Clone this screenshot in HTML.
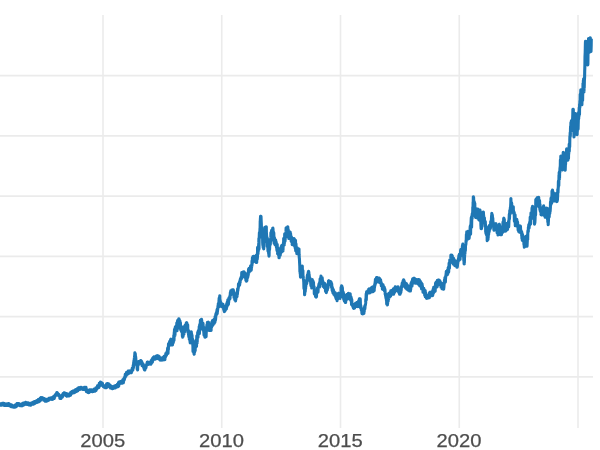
<!DOCTYPE html>
<html><head><meta charset="utf-8"><title>chart</title>
<style>
html,body{margin:0;padding:0;background:#fff;}
body{width:600px;height:450px;overflow:hidden;font-family:"Liberation Sans",sans-serif;}
svg{display:block}
.grid line{stroke:#ebebeb;stroke-width:1.6}
.lbl text{font-family:"Liberation Sans",sans-serif;font-size:18.3px;fill:#4d4d4d;stroke:#4d4d4d;stroke-width:0.25px}
</style></head><body>
<svg width="600" height="450" viewBox="0 0 600 450">
<rect width="600" height="450" fill="#ffffff"/>
<g class="grid"><line x1="-2" x2="593" y1="75.6" y2="75.6"/><line x1="-2" x2="593" y1="135.85" y2="135.85"/><line x1="-2" x2="593" y1="196.1" y2="196.1"/><line x1="-2" x2="593" y1="256.35" y2="256.35"/><line x1="-2" x2="593" y1="316.6" y2="316.6"/><line x1="-2" x2="593" y1="376.85" y2="376.85"/><line x1="103" x2="103" y1="15" y2="428"/><line x1="221.75" x2="221.75" y1="15" y2="428"/><line x1="340.5" x2="340.5" y1="15" y2="428"/><line x1="459.25" x2="459.25" y1="15" y2="428"/><line x1="578" x2="578" y1="15" y2="428"/></g>
<polyline fill="none" stroke="#1f77b4" stroke-width="3.1" stroke-linejoin="round" stroke-linecap="butt" points="-2.0,404.3 -1.9,404.8 -1.8,404.4 -1.6,404.3 -1.5,403.9 -1.4,404.3 -1.3,405.2 -1.2,405.0 -1.0,405.3 -0.9,404.9 -0.8,404.9 -0.7,404.8 -0.6,404.0 -0.4,405.1 -0.3,405.1 -0.2,405.1 -0.1,403.9 0.0,403.9 0.2,403.9 0.3,404.2 0.4,404.7 0.5,404.6 0.6,404.9 0.8,404.1 0.9,404.6 1.0,404.7 1.1,404.0 1.2,405.2 1.4,404.9 1.5,405.1 1.6,404.0 1.7,403.7 1.8,403.9 2.0,404.1 2.1,404.6 2.2,404.4 2.3,403.8 2.4,403.4 2.6,403.6 2.7,404.8 2.8,403.6 2.9,404.2 3.0,404.4 3.2,403.4 3.3,404.1 3.4,405.1 3.5,403.4 3.6,403.9 3.8,404.2 3.9,403.8 4.0,404.7 4.1,404.4 4.2,403.6 4.4,404.9 4.5,405.1 4.6,405.3 4.7,405.5 4.8,405.1 5.0,404.8 5.1,403.9 5.2,405.1 5.3,404.4 5.4,404.5 5.6,404.0 5.7,404.1 5.8,404.5 5.9,405.5 6.0,404.1 6.2,404.1 6.3,404.9 6.4,405.5 6.5,405.4 6.6,403.9 6.8,403.8 6.9,404.7 7.0,404.1 7.1,403.8 7.2,405.1 7.4,405.4 7.5,404.7 7.6,404.6 7.7,404.7 7.8,405.3 8.0,404.9 8.1,404.8 8.2,404.8 8.3,403.8 8.4,405.2 8.6,405.3 8.7,405.1 8.8,403.8 8.9,404.1 9.0,405.2 9.2,403.8 9.3,404.5 9.4,405.6 9.5,404.1 9.6,406.0 9.8,405.6 9.9,405.1 10.0,405.4 10.1,405.7 10.2,405.4 10.4,406.1 10.5,405.0 10.6,405.1 10.7,406.1 10.8,405.6 11.0,405.0 11.1,406.2 11.2,406.6 11.3,405.6 11.4,404.8 11.6,405.6 11.7,405.7 11.8,405.7 11.9,406.8 12.0,405.5 12.2,406.8 12.3,405.3 12.4,405.5 12.5,406.5 12.6,407.0 12.8,406.9 12.9,406.6 13.0,406.4 13.1,406.4 13.2,406.7 13.4,406.3 13.5,406.6 13.6,406.8 13.7,406.5 13.8,407.0 14.0,407.0 14.1,407.2 14.2,407.0 14.3,406.4 14.4,406.3 14.6,406.6 14.7,407.2 14.8,406.5 14.9,406.8 15.0,407.2 15.2,405.0 15.3,405.2 15.4,406.1 15.5,406.3 15.6,406.1 15.8,405.6 15.9,406.1 16.0,405.9 16.1,405.2 16.2,406.8 16.4,405.8 16.5,404.9 16.6,405.0 16.7,404.9 16.8,404.9 17.0,403.5 17.1,404.1 17.2,405.3 17.3,403.8 17.4,404.3 17.6,405.0 17.7,405.0 17.8,405.3 17.9,403.5 18.0,403.6 18.2,403.8 18.3,404.5 18.4,405.0 18.5,403.5 18.6,404.7 18.8,403.5 18.9,404.7 19.0,403.5 19.1,404.4 19.2,405.3 19.4,404.6 19.5,404.7 19.6,405.2 19.7,404.9 19.8,404.7 20.0,405.7 20.1,405.7 20.2,404.8 20.3,405.8 20.4,404.5 20.6,405.6 20.7,405.0 20.8,405.2 20.9,405.6 21.0,405.4 21.2,405.7 21.3,404.3 21.4,404.1 21.5,405.4 21.6,404.5 21.8,404.2 21.9,403.9 22.0,405.6 22.1,405.4 22.2,405.8 22.4,404.2 22.5,404.6 22.6,403.8 22.7,404.9 22.8,405.5 23.0,403.9 23.1,405.3 23.2,405.0 23.3,404.1 23.4,403.0 23.6,404.8 23.7,404.0 23.8,403.4 23.9,404.0 24.0,404.0 24.2,404.8 24.3,403.0 24.4,404.2 24.5,404.6 24.6,404.5 24.8,403.4 24.9,402.7 25.0,403.8 25.1,403.3 25.2,403.1 25.4,404.0 25.5,403.0 25.6,402.4 25.7,402.6 25.8,402.4 26.0,403.6 26.1,403.5 26.2,402.9 26.3,403.3 26.4,403.9 26.6,403.5 26.7,404.3 26.8,403.6 26.9,404.3 27.0,404.4 27.2,404.5 27.3,403.3 27.4,404.2 27.5,402.8 27.6,402.9 27.8,402.9 27.9,404.3 28.0,403.1 28.1,403.8 28.2,403.8 28.4,403.9 28.5,403.6 28.6,404.1 28.7,404.9 28.8,404.3 29.0,404.6 29.1,404.9 29.2,404.2 29.3,403.4 29.4,403.8 29.6,405.0 29.7,403.5 29.8,403.8 29.9,405.1 30.0,405.1 30.2,404.6 30.3,405.1 30.4,404.8 30.5,403.9 30.6,403.6 30.8,404.0 30.9,405.1 31.0,404.2 31.1,403.8 31.2,403.8 31.4,403.2 31.5,404.0 31.6,403.3 31.7,404.2 31.8,402.9 32.0,404.0 32.1,403.5 32.2,402.7 32.3,404.1 32.4,403.6 32.6,402.5 32.7,402.7 32.8,403.6 32.9,403.1 33.0,403.9 33.2,403.9 33.3,403.8 33.4,403.5 33.5,404.1 33.6,403.6 33.8,403.4 33.9,401.8 34.0,403.2 34.1,403.7 34.2,402.6 34.4,402.3 34.5,403.7 34.6,401.5 34.7,402.6 34.8,403.4 35.0,401.9 35.1,402.7 35.2,403.2 35.3,402.3 35.4,402.5 35.6,402.7 35.7,401.4 35.8,401.8 35.9,402.1 36.0,402.4 36.2,401.8 36.3,401.6 36.4,400.9 36.5,401.3 36.6,402.2 36.8,401.7 36.9,400.9 37.0,400.7 37.1,402.4 37.2,402.3 37.4,401.9 37.5,400.2 37.6,401.3 37.7,401.5 37.8,402.1 38.0,401.5 38.1,401.0 38.2,401.3 38.3,399.6 38.4,401.4 38.6,401.1 38.7,400.2 38.8,401.5 38.9,401.6 39.0,399.6 39.2,399.7 39.3,400.3 39.4,400.3 39.5,399.8 39.6,399.2 39.8,401.2 39.9,400.7 40.0,398.9 40.1,398.4 40.2,400.5 40.4,400.2 40.5,400.6 40.6,400.0 40.7,398.5 40.8,399.1 41.0,397.5 41.1,398.0 41.2,398.5 41.3,398.9 41.4,398.0 41.6,398.2 41.7,398.6 41.8,398.5 41.9,398.6 42.0,398.3 42.2,397.9 42.3,398.8 42.4,398.4 42.5,397.8 42.6,398.0 42.8,398.5 42.9,398.6 43.0,398.9 43.1,398.9 43.2,399.1 43.4,399.0 43.5,398.3 43.6,399.5 43.7,400.2 43.8,399.9 44.0,399.5 44.1,400.0 44.2,399.1 44.3,398.5 44.4,399.8 44.6,399.4 44.7,400.6 44.8,399.6 44.9,399.0 45.0,399.4 45.2,401.3 45.3,400.6 45.4,399.6 45.5,399.9 45.6,400.8 45.8,400.9 45.9,400.6 46.0,401.3 46.1,401.0 46.2,400.4 46.4,400.7 46.5,401.2 46.6,401.0 46.7,401.0 46.8,399.4 47.0,399.8 47.1,400.4 47.2,399.8 47.3,400.6 47.4,400.3 47.6,400.5 47.7,399.6 47.8,400.6 47.9,400.6 48.0,399.6 48.2,399.6 48.3,400.4 48.4,399.4 48.5,400.0 48.6,400.1 48.8,399.4 48.9,398.3 49.0,399.1 49.1,399.3 49.2,399.9 49.4,399.7 49.5,399.1 49.6,399.6 49.7,399.4 49.8,399.1 50.0,399.0 50.1,398.7 50.2,399.3 50.3,398.1 50.4,398.3 50.6,398.7 50.7,398.0 50.8,398.3 50.9,398.0 51.0,398.0 51.2,399.0 51.3,399.2 51.4,398.7 51.5,398.5 51.6,397.9 51.8,399.4 51.9,399.2 52.0,399.3 52.1,398.1 52.2,398.3 52.4,397.8 52.5,398.9 52.6,399.3 52.7,397.3 52.8,398.2 53.0,398.9 53.1,397.2 53.2,396.9 53.3,397.3 53.4,397.6 53.6,396.9 53.7,397.8 53.8,397.9 53.9,398.1 54.0,398.1 54.2,398.5 54.3,398.2 54.4,396.2 54.5,396.3 54.6,395.8 54.8,395.6 54.9,396.2 55.0,396.2 55.1,396.5 55.2,394.8 55.4,394.6 55.5,395.4 55.6,395.3 55.7,395.0 55.8,395.1 56.0,394.4 56.1,395.3 56.2,395.0 56.3,394.5 56.4,393.9 56.6,394.0 56.7,392.7 56.8,392.8 56.9,393.6 57.0,392.7 57.2,393.5 57.3,393.4 57.4,392.7 57.5,393.2 57.6,393.5 57.8,394.3 57.9,394.6 58.0,394.3 58.1,393.8 58.2,394.4 58.4,394.7 58.5,395.5 58.6,395.4 58.7,394.8 58.8,394.3 59.0,395.1 59.1,395.1 59.2,395.0 59.3,395.9 59.4,395.8 59.6,396.4 59.7,397.0 59.8,396.5 59.9,398.5 60.0,397.1 60.2,398.1 60.3,397.6 60.4,398.5 60.5,396.1 60.6,397.1 60.8,398.0 60.9,398.2 61.0,398.5 61.1,397.9 61.2,398.2 61.4,397.7 61.5,397.6 61.6,397.1 61.7,396.4 61.8,396.7 62.0,395.3 62.1,396.7 62.2,395.1 62.3,395.6 62.4,397.0 62.6,395.3 62.7,395.0 62.8,395.7 62.9,394.8 63.0,393.8 63.2,394.4 63.3,394.6 63.4,394.5 63.5,393.2 63.6,394.9 63.8,394.9 63.9,393.4 64.0,393.2 64.1,392.8 64.2,394.2 64.4,392.8 64.5,393.8 64.6,393.1 64.7,392.9 64.8,394.0 65.0,394.8 65.1,393.9 65.2,393.3 65.3,394.5 65.4,394.0 65.6,394.3 65.7,395.4 65.8,395.3 65.9,394.0 66.0,395.7 66.2,394.7 66.3,395.2 66.4,394.2 66.5,394.6 66.6,393.5 66.8,396.0 66.9,396.2 67.0,394.3 67.1,393.8 67.2,393.9 67.4,396.0 67.5,395.1 67.6,395.3 67.7,395.3 67.8,395.5 68.0,394.8 68.1,395.5 68.2,394.4 68.3,395.2 68.4,395.6 68.6,395.7 68.7,395.1 68.8,394.4 68.9,395.0 69.0,394.5 69.2,396.0 69.3,395.5 69.4,394.7 69.5,394.2 69.6,393.9 69.8,393.6 69.9,393.9 70.0,394.4 70.1,394.5 70.2,394.5 70.4,395.3 70.5,393.5 70.6,393.7 70.7,395.0 70.8,392.4 71.0,392.9 71.1,393.4 71.2,393.4 71.3,393.6 71.4,393.0 71.6,393.3 71.7,393.0 71.8,393.5 71.9,391.6 72.0,391.8 72.2,392.5 72.3,391.7 72.4,391.5 72.5,392.8 72.6,391.9 72.8,392.8 72.9,392.9 73.0,392.5 73.1,392.6 73.2,392.1 73.4,390.9 73.5,391.8 73.6,392.2 73.7,391.5 73.8,391.6 74.0,392.3 74.1,391.0 74.2,392.0 74.3,392.7 74.4,391.3 74.6,391.5 74.7,391.3 74.8,392.4 74.9,391.7 75.0,392.0 75.2,390.7 75.3,391.0 75.4,391.0 75.5,389.7 75.6,391.8 75.8,391.7 75.9,389.5 76.0,391.1 76.1,390.6 76.2,390.9 76.4,390.8 76.5,389.2 76.6,389.9 76.7,391.4 76.8,389.8 77.0,389.2 77.1,388.7 77.2,388.7 77.3,389.9 77.4,391.0 77.6,390.2 77.7,389.9 77.8,390.8 77.9,389.3 78.0,388.7 78.2,389.6 78.3,389.7 78.4,388.3 78.5,387.9 78.6,389.0 78.8,389.1 78.9,387.7 79.0,388.3 79.1,388.1 79.2,388.8 79.4,388.4 79.5,388.3 79.6,388.0 79.7,389.0 79.8,389.4 80.0,387.9 80.1,388.7 80.2,387.5 80.3,388.1 80.4,388.7 80.6,389.1 80.7,388.1 80.8,388.1 80.9,388.4 81.0,387.3 81.2,388.1 81.3,387.7 81.4,388.6 81.5,387.5 81.6,387.5 81.8,388.2 81.9,388.7 82.0,388.1 82.1,389.2 82.2,388.5 82.4,388.1 82.5,389.0 82.6,387.8 82.7,387.9 82.8,388.5 83.0,389.3 83.1,388.6 83.2,388.8 83.3,388.0 83.4,388.7 83.6,389.4 83.7,388.1 83.8,389.3 83.9,388.1 84.0,388.3 84.2,388.4 84.3,389.2 84.4,387.3 84.5,387.3 84.6,388.4 84.8,388.8 84.9,388.7 85.0,389.7 85.1,388.6 85.2,388.3 85.4,388.9 85.5,388.7 85.6,389.9 85.7,387.8 85.8,388.4 86.0,387.3 86.1,389.4 86.2,389.1 86.3,390.2 86.4,391.6 86.6,390.1 86.7,389.9 86.8,389.8 86.9,389.7 87.0,390.0 87.2,391.2 87.3,391.0 87.4,391.2 87.5,391.2 87.6,392.2 87.8,392.2 87.9,391.8 88.0,392.5 88.1,391.9 88.2,390.9 88.4,392.7 88.5,392.2 88.6,391.0 88.7,392.3 88.8,391.9 89.0,390.2 89.1,392.5 89.2,391.7 89.3,392.0 89.4,391.4 89.6,391.0 89.7,389.8 89.8,391.5 89.9,391.0 90.0,390.6 90.2,391.0 90.3,390.8 90.4,391.1 90.5,390.3 90.6,390.4 90.8,389.8 90.9,389.8 91.0,390.9 91.1,391.4 91.2,390.4 91.4,390.4 91.5,391.5 91.6,390.5 91.7,391.2 91.8,391.5 92.0,390.9 92.1,391.6 92.2,390.3 92.3,390.9 92.4,390.8 92.6,390.9 92.7,391.7 92.8,391.7 92.9,390.7 93.0,390.4 93.2,391.3 93.3,390.2 93.4,391.2 93.5,391.4 93.6,390.6 93.8,391.1 93.9,389.4 94.0,391.0 94.1,389.3 94.2,389.7 94.4,389.8 94.5,389.8 94.6,390.8 94.7,390.3 94.8,389.7 95.0,390.4 95.1,391.1 95.2,390.0 95.3,390.1 95.4,390.7 95.6,390.0 95.7,388.5 95.8,390.7 95.9,390.6 96.0,387.9 96.2,388.9 96.3,389.3 96.4,389.7 96.5,389.3 96.6,388.4 96.8,387.5 96.9,388.2 97.0,388.9 97.1,387.1 97.2,386.8 97.4,387.5 97.5,385.8 97.6,386.9 97.7,386.8 97.8,387.4 98.0,386.4 98.1,385.9 98.2,386.2 98.3,386.4 98.4,385.7 98.6,386.1 98.7,386.7 98.8,387.0 98.9,387.4 99.0,385.1 99.2,385.0 99.3,383.3 99.4,386.4 99.5,384.5 99.6,384.7 99.8,385.1 99.9,383.4 100.0,384.6 100.1,384.2 100.2,382.5 100.4,383.9 100.5,384.8 100.6,382.1 100.7,383.9 100.8,383.5 101.0,383.6 101.1,383.4 101.2,384.0 101.3,382.7 101.4,383.7 101.6,382.8 101.7,383.9 101.8,382.8 101.9,383.4 102.0,385.3 102.2,384.6 102.3,384.1 102.4,383.3 102.5,383.7 102.6,384.7 102.8,385.7 102.9,385.5 103.0,385.7 103.1,385.4 103.2,386.7 103.4,385.6 103.5,385.4 103.6,386.8 103.7,386.4 103.8,386.2 104.0,386.1 104.1,386.4 104.2,387.2 104.3,387.1 104.4,385.8 104.6,387.0 104.7,387.0 104.8,386.0 104.9,387.4 105.0,386.7 105.2,386.6 105.3,387.5 105.4,387.7 105.5,386.5 105.6,387.3 105.8,386.3 105.9,387.7 106.0,386.9 106.1,387.7 106.2,386.1 106.4,386.9 106.5,387.7 106.6,383.9 106.7,384.8 106.8,385.6 107.0,385.0 107.1,384.2 107.2,386.3 107.3,384.7 107.4,383.6 107.6,385.1 107.7,383.6 107.8,385.5 107.9,384.5 108.0,385.0 108.2,386.2 108.3,385.4 108.4,384.1 108.5,383.8 108.6,386.3 108.8,386.4 108.9,385.1 109.0,386.5 109.1,386.4 109.2,386.7 109.4,384.6 109.5,385.7 109.6,387.0 109.7,387.2 109.8,387.4 110.0,385.1 110.1,386.6 110.2,387.2 110.3,388.0 110.4,386.4 110.6,386.6 110.7,387.0 110.8,387.8 110.9,386.9 111.0,388.1 111.2,386.7 111.3,387.5 111.4,387.0 111.5,387.5 111.6,386.9 111.8,386.4 111.9,388.3 112.0,388.0 112.1,387.3 112.2,387.9 112.4,388.7 112.5,387.2 112.6,387.8 112.7,388.4 112.8,388.4 113.0,387.7 113.1,386.7 113.2,388.5 113.3,388.1 113.4,387.7 113.6,387.3 113.7,387.7 113.8,387.1 113.9,386.5 114.0,386.6 114.2,386.7 114.3,386.6 114.4,386.1 114.5,387.5 114.6,386.0 114.8,387.4 114.9,386.1 115.0,387.0 115.1,388.0 115.2,387.1 115.4,386.1 115.5,386.6 115.6,386.7 115.7,385.5 115.8,385.8 116.0,386.5 116.1,386.0 116.2,386.4 116.3,387.0 116.4,387.0 116.6,387.1 116.7,386.9 116.8,386.0 116.9,386.1 117.0,385.9 117.2,385.7 117.3,385.8 117.4,384.4 117.5,385.2 117.6,385.5 117.8,384.6 117.9,385.1 118.0,385.6 118.1,384.9 118.2,386.6 118.4,382.8 118.5,384.1 118.6,382.8 118.7,384.9 118.8,386.0 119.0,382.1 119.1,383.7 119.2,384.1 119.3,383.3 119.4,383.8 119.6,381.9 119.7,383.6 119.8,383.3 119.9,382.9 120.0,382.2 120.2,383.1 120.3,382.3 120.4,382.7 120.5,382.1 120.6,381.6 120.8,382.2 120.9,382.6 121.0,383.1 121.1,381.7 121.2,382.2 121.4,382.9 121.5,382.5 121.6,383.3 121.7,383.2 121.8,381.7 122.0,380.8 122.1,382.7 122.2,383.1 122.3,383.1 122.4,382.9 122.6,381.6 122.7,381.3 122.8,382.5 122.9,380.8 123.0,379.6 123.2,379.9 123.3,382.8 123.4,382.6 123.5,380.0 123.6,379.4 123.8,379.9 123.9,378.9 124.0,380.4 124.1,379.2 124.2,377.9 124.4,379.7 124.5,378.0 124.6,378.3 124.7,377.9 124.8,377.3 125.0,377.7 125.1,376.5 125.2,375.1 125.3,374.3 125.4,374.9 125.6,375.3 125.7,375.9 125.8,375.9 125.9,376.2 126.0,375.6 126.2,374.5 126.3,374.2 126.4,372.6 126.5,374.1 126.6,374.8 126.8,374.7 126.9,373.9 127.0,373.6 127.1,374.4 127.2,373.5 127.4,373.9 127.5,373.6 127.6,373.0 127.7,373.8 127.8,371.9 128.0,371.7 128.1,371.1 128.2,371.1 128.3,373.4 128.4,373.7 128.6,372.3 128.7,372.5 128.8,373.1 128.9,372.9 129.0,372.8 129.2,371.0 129.3,371.1 129.4,372.2 129.5,372.7 129.6,372.2 129.8,371.0 129.9,371.4 130.0,371.1 130.1,370.9 130.2,372.7 130.4,371.4 130.5,371.7 130.6,372.6 130.7,372.6 130.8,372.3 131.0,371.2 131.1,372.0 131.2,372.6 131.3,372.5 131.4,372.6 131.6,371.4 131.7,371.3 131.8,370.3 131.9,370.6 132.0,371.2 132.2,368.3 132.3,369.0 132.4,369.2 132.5,368.1 132.6,368.0 132.8,368.8 132.9,369.9 133.0,368.4 133.1,367.6 133.2,365.3 133.4,368.0 133.5,365.6 133.6,364.4 133.7,362.2 133.8,362.2 134.0,360.3 134.1,360.4 134.2,360.1 134.3,358.8 134.4,358.0 134.6,355.9 134.7,357.3 134.8,354.4 134.9,352.7 135.0,353.0 135.2,353.5 135.3,354.0 135.4,355.5 135.5,357.2 135.6,356.5 135.8,358.2 135.9,360.9 136.0,361.2 136.1,361.1 136.2,362.1 136.4,362.7 136.5,363.5 136.6,365.2 136.7,365.3 136.8,363.6 137.0,366.5 137.1,366.8 137.2,369.1 137.3,368.7 137.4,368.8 137.6,370.0 137.7,366.9 137.8,365.9 137.9,365.0 138.0,363.4 138.2,363.2 138.3,365.1 138.4,363.9 138.5,362.0 138.6,361.7 138.8,363.4 138.9,361.7 139.0,361.5 139.1,361.8 139.2,362.5 139.4,363.1 139.5,362.3 139.6,361.4 139.7,361.4 139.8,363.2 140.0,363.1 140.1,361.4 140.2,362.0 140.3,362.1 140.4,361.9 140.6,361.4 140.7,360.5 140.8,361.3 140.9,360.5 141.0,363.4 141.2,363.2 141.3,361.4 141.4,364.0 141.5,364.0 141.6,361.2 141.8,364.7 141.9,364.3 142.0,365.7 142.1,362.6 142.2,364.3 142.4,364.6 142.5,364.7 142.6,364.9 142.7,366.0 142.8,363.8 143.0,363.9 143.1,364.0 143.2,365.1 143.3,365.5 143.4,366.8 143.6,367.1 143.7,367.1 143.8,366.6 143.9,367.0 144.0,368.7 144.2,369.0 144.3,368.6 144.4,368.3 144.5,370.0 144.6,368.8 144.8,369.8 144.9,370.0 145.0,368.5 145.1,369.2 145.2,367.0 145.4,368.7 145.5,367.8 145.6,365.6 145.7,367.4 145.8,365.8 146.0,367.6 146.1,365.6 146.2,365.6 146.3,365.8 146.4,365.0 146.6,365.2 146.7,364.2 146.8,365.1 146.9,364.3 147.0,364.1 147.2,362.4 147.3,364.1 147.4,363.5 147.5,362.4 147.6,363.1 147.8,363.8 147.9,364.5 148.0,362.4 148.1,364.5 148.2,363.4 148.4,364.2 148.5,363.5 148.6,364.1 148.7,363.0 148.8,362.4 149.0,364.2 149.1,364.2 149.2,364.2 149.3,364.2 149.4,362.9 149.6,362.4 149.7,362.4 149.8,362.4 149.9,362.3 150.0,363.8 150.2,363.7 150.3,363.1 150.4,363.4 150.5,363.2 150.6,363.5 150.8,364.0 150.9,364.1 151.0,362.2 151.1,360.9 151.2,363.6 151.4,362.4 151.5,363.2 151.6,360.1 151.7,360.9 151.8,361.2 152.0,359.5 152.1,360.1 152.2,361.3 152.3,361.7 152.4,362.1 152.6,359.4 152.7,358.2 152.8,359.9 152.9,360.4 153.0,359.5 153.2,357.6 153.3,359.4 153.4,359.6 153.5,359.3 153.6,358.1 153.8,358.7 153.9,359.3 154.0,357.9 154.1,356.9 154.2,358.3 154.4,358.7 154.5,358.2 154.6,359.0 154.7,357.5 154.8,357.8 155.0,357.5 155.1,358.4 155.2,359.1 155.3,357.7 155.4,359.0 155.6,358.9 155.7,358.7 155.8,358.3 155.9,358.8 156.0,357.4 156.2,357.2 156.3,356.0 156.4,357.5 156.5,358.5 156.6,357.9 156.8,357.6 156.9,356.8 157.0,357.0 157.1,355.8 157.2,357.7 157.4,356.4 157.5,355.8 157.6,355.9 157.7,356.0 157.8,358.0 158.0,358.6 158.1,356.1 158.2,358.3 158.3,358.7 158.4,357.2 158.6,356.1 158.7,356.8 158.8,357.1 158.9,358.4 159.0,357.9 159.2,356.6 159.3,358.3 159.4,356.8 159.5,359.4 159.6,357.5 159.8,357.9 159.9,357.9 160.0,358.3 160.1,360.2 160.2,360.2 160.4,360.1 160.5,359.7 160.6,357.8 160.7,358.4 160.8,358.5 161.0,358.2 161.1,359.6 161.2,358.4 161.3,358.3 161.4,358.1 161.6,358.1 161.7,359.4 161.8,360.1 161.9,359.5 162.0,358.0 162.2,358.0 162.3,358.7 162.4,360.0 162.5,359.5 162.6,360.0 162.8,360.0 162.9,359.9 163.0,358.6 163.1,359.9 163.2,359.9 163.4,357.8 163.5,358.1 163.6,357.2 163.7,358.4 163.8,359.3 164.0,357.7 164.1,356.3 164.2,359.7 164.3,359.2 164.4,359.7 164.6,356.8 164.7,358.8 164.8,359.7 164.9,359.7 165.0,357.0 165.2,356.9 165.3,356.1 165.4,357.1 165.5,357.0 165.6,355.7 165.8,353.6 165.9,355.4 166.0,354.0 166.1,354.8 166.2,354.3 166.4,355.5 166.5,354.9 166.6,352.7 166.7,353.1 166.8,354.5 167.0,351.8 167.1,352.2 167.2,352.8 167.3,352.6 167.4,351.4 167.6,348.7 167.7,348.0 167.8,349.3 167.9,349.3 168.0,353.4 168.2,347.1 168.3,349.8 168.4,349.1 168.5,343.7 168.6,344.2 168.8,346.0 168.9,344.5 169.0,344.7 169.1,345.6 169.2,342.8 169.4,344.7 169.5,342.3 169.6,341.8 169.7,343.6 169.8,341.2 170.0,342.3 170.1,344.9 170.2,341.6 170.3,340.5 170.4,342.4 170.6,340.5 170.7,343.4 170.8,339.0 170.9,342.5 171.0,340.7 171.2,340.0 171.3,344.9 171.4,340.8 171.5,344.9 171.6,344.4 171.8,344.9 171.9,341.2 172.0,344.9 172.1,344.9 172.2,343.5 172.4,342.8 172.5,344.9 172.6,343.2 172.7,340.8 172.8,339.6 173.0,341.3 173.1,340.9 173.2,340.0 173.3,342.8 173.4,338.4 173.6,339.0 173.7,340.9 173.8,335.3 173.9,338.6 174.0,340.4 174.2,333.2 174.3,332.2 174.4,331.8 174.5,329.5 174.6,333.8 174.8,328.9 174.9,333.0 175.0,335.4 175.1,328.5 175.2,330.2 175.4,326.7 175.5,331.8 175.6,328.9 175.7,329.3 175.8,329.8 176.0,330.7 176.1,328.5 176.2,328.8 176.3,327.2 176.4,328.3 176.6,325.1 176.7,327.3 176.8,322.7 176.9,325.1 177.0,330.8 177.2,327.0 177.3,323.0 177.4,325.7 177.5,322.9 177.6,320.5 177.8,322.0 177.9,325.5 178.0,324.8 178.1,323.3 178.2,320.7 178.4,319.7 178.5,325.1 178.6,322.9 178.7,319.4 178.8,318.8 179.0,318.8 179.1,326.4 179.2,319.5 179.3,321.5 179.4,322.9 179.6,322.6 179.7,322.7 179.8,320.5 179.9,321.4 180.0,328.4 180.2,324.1 180.3,327.6 180.4,322.6 180.5,325.6 180.6,327.7 180.8,330.2 180.9,326.0 181.0,329.7 181.1,330.4 181.2,328.4 181.4,331.4 181.5,329.2 181.6,329.6 181.7,332.0 181.8,326.8 182.0,332.4 182.1,331.8 182.2,331.2 182.3,333.8 182.4,336.4 182.6,334.0 182.7,337.1 182.8,331.9 182.9,330.5 183.0,336.5 183.2,334.5 183.3,335.2 183.4,331.1 183.5,333.9 183.6,332.9 183.8,333.3 183.9,331.7 184.0,333.9 184.1,329.8 184.2,328.2 184.4,326.5 184.5,332.1 184.6,328.3 184.7,326.8 184.8,326.5 185.0,327.4 185.1,325.3 185.2,327.1 185.3,326.3 185.4,326.1 185.6,324.9 185.7,326.8 185.8,325.7 185.9,326.6 186.0,326.9 186.2,326.9 186.3,322.9 186.4,323.4 186.5,322.9 186.6,326.4 186.8,322.9 186.9,323.3 187.0,325.0 187.1,325.7 187.2,329.3 187.4,327.0 187.5,330.4 187.6,325.7 187.7,324.7 187.8,332.0 188.0,331.8 188.1,332.3 188.2,332.0 188.3,333.3 188.4,330.2 188.6,335.2 188.7,333.1 188.8,336.8 188.9,335.9 189.0,331.8 189.2,333.2 189.3,339.3 189.4,338.0 189.5,337.8 189.6,339.7 189.8,339.1 189.9,339.3 190.0,341.3 190.1,340.9 190.2,343.0 190.4,339.7 190.5,342.5 190.6,342.2 190.7,341.3 190.8,339.1 191.0,336.1 191.1,335.1 191.2,333.7 191.3,331.8 191.4,334.1 191.6,334.0 191.7,339.8 191.8,339.1 191.9,337.7 192.0,335.1 192.2,339.6 192.3,340.4 192.4,339.9 192.5,340.6 192.6,339.1 192.8,345.2 192.9,345.4 193.0,351.4 193.1,347.4 193.2,347.1 193.4,350.8 193.5,349.2 193.6,349.6 193.7,349.1 193.8,349.0 194.0,353.7 194.1,354.0 194.2,354.2 194.3,352.4 194.4,351.9 194.6,349.3 194.7,352.0 194.8,347.0 194.9,349.6 195.0,350.4 195.2,350.6 195.3,345.2 195.4,347.9 195.5,343.9 195.6,342.6 195.8,340.7 195.9,345.3 196.0,346.7 196.1,341.8 196.2,340.3 196.4,340.6 196.5,346.4 196.6,343.6 196.7,339.6 196.8,335.9 197.0,337.3 197.1,341.2 197.2,342.9 197.3,338.2 197.4,336.1 197.6,335.9 197.7,332.4 197.8,337.7 197.9,333.6 198.0,337.4 198.2,331.4 198.3,331.0 198.4,334.0 198.5,331.7 198.6,334.4 198.8,332.7 198.9,329.3 199.0,332.5 199.1,333.1 199.2,326.5 199.4,333.7 199.5,331.3 199.6,331.1 199.7,324.6 199.8,325.8 200.0,326.3 200.1,329.3 200.2,323.3 200.3,323.3 200.4,320.1 200.6,323.4 200.7,324.8 200.8,319.7 200.9,321.0 201.0,323.4 201.2,325.9 201.3,323.6 201.4,321.3 201.5,319.4 201.6,319.9 201.8,321.1 201.9,323.6 202.0,323.9 202.1,328.5 202.2,326.3 202.4,323.1 202.5,329.2 202.6,329.2 202.7,327.5 202.8,325.8 203.0,323.2 203.1,325.2 203.2,330.4 203.3,327.6 203.4,326.3 203.6,330.0 203.7,331.0 203.8,332.4 203.9,333.1 204.0,335.3 204.2,330.8 204.3,334.7 204.4,331.2 204.5,334.8 204.6,334.6 204.8,335.1 204.9,337.1 205.0,335.6 205.1,337.1 205.2,336.6 205.4,334.4 205.5,332.1 205.6,330.9 205.7,330.8 205.8,331.1 206.0,331.1 206.1,336.7 206.2,332.8 206.3,331.9 206.4,327.6 206.6,326.9 206.7,327.2 206.8,328.1 206.9,324.9 207.0,330.2 207.2,325.4 207.3,328.2 207.4,322.2 207.5,324.0 207.6,324.8 207.8,324.7 207.9,325.9 208.0,325.5 208.1,325.4 208.2,322.2 208.4,323.0 208.5,322.2 208.6,326.4 208.7,326.9 208.8,326.0 209.0,324.6 209.1,325.2 209.2,330.5 209.3,330.5 209.4,328.1 209.6,330.5 209.7,324.8 209.8,324.4 209.9,326.7 210.0,326.3 210.2,326.8 210.3,328.5 210.4,330.5 210.5,327.5 210.6,327.8 210.8,328.2 210.9,327.4 211.0,329.4 211.1,330.4 211.2,324.6 211.4,326.7 211.5,325.9 211.6,327.1 211.7,322.7 211.8,322.2 212.0,321.9 212.1,325.9 212.2,326.0 212.3,325.5 212.4,320.7 212.6,322.9 212.7,322.3 212.8,320.4 212.9,321.0 213.0,324.8 213.2,324.7 213.3,323.1 213.4,323.9 213.5,321.0 213.6,322.0 213.8,321.8 213.9,322.8 214.0,321.2 214.1,320.6 214.2,320.3 214.4,319.3 214.5,323.1 214.6,320.9 214.7,320.2 214.8,322.5 215.0,321.4 215.1,316.5 215.2,318.7 215.3,318.9 215.4,320.1 215.6,319.1 215.7,317.8 215.8,314.4 215.9,314.0 216.0,315.3 216.2,315.4 216.3,312.8 216.4,313.0 216.5,312.7 216.6,313.0 216.8,313.1 216.9,311.8 217.0,309.8 217.1,312.9 217.2,313.6 217.4,310.6 217.5,311.3 217.6,309.9 217.7,309.4 217.8,308.5 218.0,305.8 218.1,306.9 218.2,307.2 218.3,303.6 218.4,307.0 218.6,307.1 218.7,306.1 218.8,305.7 218.9,303.0 219.0,300.3 219.2,298.8 219.3,297.7 219.4,298.4 219.5,297.7 219.6,298.1 219.8,295.7 219.9,301.1 220.0,302.8 220.1,299.9 220.2,301.2 220.4,301.7 220.5,302.1 220.6,302.0 220.7,302.8 220.8,302.4 221.0,304.6 221.1,305.2 221.2,306.5 221.3,304.6 221.4,305.6 221.6,305.7 221.7,306.5 221.8,303.9 221.9,305.7 222.0,306.8 222.2,306.2 222.3,304.5 222.4,304.0 222.5,304.2 222.6,305.6 222.8,307.1 222.9,304.9 223.0,304.3 223.1,306.3 223.2,306.8 223.4,305.7 223.5,306.2 223.6,307.8 223.7,309.7 223.8,307.6 224.0,308.0 224.1,310.9 224.2,309.1 224.3,311.2 224.4,311.6 224.6,310.6 224.7,308.8 224.8,309.8 224.9,309.2 225.0,309.9 225.2,308.0 225.3,310.4 225.4,306.2 225.5,307.6 225.6,307.9 225.8,309.1 225.9,306.6 226.0,307.8 226.1,305.9 226.2,307.4 226.4,309.0 226.5,305.6 226.6,306.1 226.7,303.8 226.8,306.2 227.0,306.7 227.1,304.7 227.2,302.3 227.3,304.1 227.4,305.3 227.6,305.2 227.7,304.5 227.8,299.9 227.9,300.8 228.0,304.1 228.2,300.1 228.3,303.1 228.4,304.5 228.5,302.6 228.6,302.7 228.8,300.1 228.9,298.1 229.0,299.3 229.1,298.9 229.2,298.6 229.4,299.3 229.5,297.6 229.6,297.5 229.7,297.4 229.8,296.2 230.0,298.7 230.1,296.3 230.2,294.9 230.3,293.7 230.4,292.4 230.6,295.1 230.7,293.3 230.8,290.9 230.9,291.4 231.0,292.1 231.2,291.6 231.3,294.0 231.4,290.5 231.5,292.7 231.6,292.4 231.8,290.0 231.9,291.7 232.0,291.6 232.1,292.6 232.2,291.0 232.4,292.0 232.5,289.9 232.6,289.9 232.7,292.3 232.8,293.2 233.0,291.7 233.1,290.9 233.2,294.0 233.3,289.9 233.4,291.4 233.6,294.5 233.7,295.3 233.8,293.0 233.9,291.6 234.0,297.4 234.2,296.5 234.3,295.0 234.4,296.7 234.5,298.7 234.6,293.7 234.8,299.4 234.9,300.0 235.0,295.9 235.1,300.3 235.2,296.9 235.4,300.7 235.5,299.8 235.6,301.0 235.7,297.7 235.8,297.7 236.0,299.0 236.1,296.1 236.2,295.3 236.3,295.4 236.4,295.5 236.6,293.5 236.7,295.5 236.8,295.6 236.9,294.5 237.0,296.7 237.2,293.3 237.3,295.2 237.4,292.1 237.5,293.4 237.6,288.7 237.8,291.1 237.9,290.4 238.0,289.2 238.1,288.4 238.2,288.2 238.4,287.0 238.5,283.8 238.6,285.6 238.7,285.5 238.8,285.0 239.0,283.5 239.1,284.4 239.2,285.7 239.3,283.6 239.4,282.4 239.6,285.0 239.7,284.2 239.8,283.5 239.9,283.4 240.0,280.4 240.2,280.0 240.3,281.9 240.4,278.9 240.5,278.9 240.6,279.5 240.8,279.3 240.9,277.7 241.0,279.5 241.1,277.3 241.2,278.3 241.4,278.8 241.5,277.8 241.6,277.5 241.7,273.7 241.8,272.5 242.0,273.3 242.1,275.1 242.2,277.0 242.3,272.2 242.4,274.3 242.6,272.4 242.7,272.3 242.8,273.1 242.9,275.0 243.0,274.4 243.2,275.6 243.3,272.2 243.4,275.1 243.5,275.5 243.6,274.0 243.8,274.5 243.9,272.6 244.0,271.8 244.1,272.4 244.2,272.0 244.4,277.2 244.5,273.2 244.6,276.6 244.7,274.8 244.8,275.0 245.0,276.1 245.1,273.8 245.2,276.8 245.3,276.6 245.4,273.4 245.6,277.1 245.7,277.9 245.8,278.1 245.9,280.5 246.0,277.5 246.2,279.0 246.3,280.0 246.4,277.4 246.5,281.1 246.6,277.2 246.8,277.2 246.9,280.8 247.0,278.0 247.1,278.9 247.2,275.9 247.4,278.1 247.5,275.8 247.6,277.8 247.7,274.2 247.8,276.9 248.0,275.6 248.1,275.6 248.2,274.9 248.3,274.8 248.4,271.7 248.6,269.1 248.7,272.4 248.8,270.8 248.9,271.0 249.0,272.3 249.2,268.4 249.3,268.9 249.4,269.3 249.5,268.4 249.6,270.8 249.8,270.1 249.9,268.6 250.0,267.9 250.1,271.1 250.2,268.7 250.4,270.5 250.5,270.4 250.6,265.9 250.7,266.6 250.8,268.6 251.0,269.5 251.1,270.3 251.2,269.9 251.3,269.7 251.4,266.5 251.6,265.7 251.7,267.0 251.8,264.3 251.9,266.2 252.0,260.8 252.2,263.8 252.3,262.1 252.4,257.7 252.5,262.3 252.6,261.1 252.8,259.8 252.9,256.9 253.0,257.1 253.1,260.7 253.2,256.7 253.4,256.2 253.5,256.2 253.6,256.2 253.7,257.7 253.8,257.7 254.0,256.7 254.1,256.8 254.2,260.7 254.3,256.5 254.4,261.3 254.6,258.7 254.7,257.1 254.8,260.7 254.9,260.8 255.0,257.7 255.2,260.8 255.3,257.4 255.4,257.5 255.5,261.6 255.6,259.6 255.8,257.4 255.9,260.5 256.0,262.4 256.1,260.4 256.2,255.3 256.4,258.5 256.5,261.1 256.6,261.8 256.7,262.4 256.8,258.4 257.0,256.4 257.1,256.7 257.2,259.5 257.3,253.6 257.4,258.2 257.6,247.3 257.7,254.8 257.8,251.3 257.9,253.3 258.0,253.7 258.2,248.0 258.3,249.6 258.4,250.2 258.5,250.7 258.6,245.5 258.8,242.9 258.9,238.3 259.0,248.9 259.1,241.0 259.2,238.2 259.4,232.5 259.5,237.2 259.6,232.1 259.7,235.7 259.8,232.9 260.0,228.4 260.1,228.4 260.2,221.2 260.3,221.0 260.4,218.6 260.6,216.2 260.7,218.6 260.8,220.0 260.9,226.4 261.0,216.3 261.2,221.3 261.3,223.0 261.4,225.8 261.5,230.2 261.6,232.0 261.8,232.3 261.9,232.1 262.0,236.2 262.1,237.6 262.2,232.5 262.4,237.5 262.5,236.2 262.6,237.7 262.7,242.9 262.8,244.6 263.0,246.1 263.1,244.7 263.2,247.6 263.3,244.6 263.4,246.7 263.6,246.9 263.7,249.0 263.8,246.8 263.9,239.5 264.0,238.4 264.2,235.7 264.3,237.9 264.4,242.2 264.5,238.0 264.6,227.7 264.8,227.9 264.9,227.4 265.0,232.5 265.1,231.4 265.2,231.9 265.4,236.1 265.5,228.6 265.6,227.1 265.7,235.1 265.8,231.1 266.0,227.6 266.1,226.8 266.2,226.8 266.3,226.8 266.4,233.4 266.6,235.5 266.7,239.6 266.8,237.9 266.9,237.0 267.0,237.8 267.2,246.5 267.3,238.1 267.4,243.3 267.5,244.5 267.6,247.3 267.8,245.7 267.9,248.9 268.0,251.2 268.1,249.7 268.2,249.5 268.4,251.1 268.5,250.1 268.6,252.9 268.7,253.6 268.8,253.9 269.0,256.1 269.1,255.4 269.2,249.5 269.3,250.6 269.4,249.0 269.6,249.1 269.7,246.1 269.8,245.4 269.9,242.2 270.0,239.8 270.2,243.3 270.3,244.6 270.4,242.5 270.5,241.2 270.6,240.0 270.8,237.4 270.9,232.6 271.0,238.7 271.1,237.8 271.2,235.1 271.4,233.0 271.5,239.0 271.6,230.3 271.7,239.2 271.8,236.8 272.0,240.0 272.1,232.2 272.2,232.5 272.3,230.7 272.4,232.0 272.6,230.7 272.7,228.4 272.8,233.2 272.9,228.1 273.0,229.2 273.2,233.3 273.3,231.4 273.4,232.3 273.5,235.5 273.6,234.7 273.8,232.7 273.9,236.6 274.0,237.7 274.1,243.2 274.2,237.0 274.4,242.1 274.5,237.9 274.6,238.7 274.7,239.1 274.8,241.1 275.0,243.3 275.1,244.8 275.2,240.0 275.3,245.0 275.4,244.9 275.6,244.5 275.7,240.1 275.8,244.4 275.9,242.3 276.0,243.5 276.2,242.1 276.3,244.7 276.4,246.6 276.5,247.5 276.6,244.3 276.8,247.8 276.9,250.1 277.0,244.2 277.1,250.7 277.2,244.3 277.4,249.1 277.5,250.5 277.6,253.7 277.7,251.4 277.8,249.4 278.0,248.8 278.1,248.0 278.2,253.9 278.3,252.6 278.4,251.6 278.6,255.4 278.7,253.0 278.8,254.0 278.9,253.8 279.0,257.7 279.2,257.7 279.3,254.8 279.4,250.2 279.5,254.2 279.6,254.0 279.8,254.6 279.9,255.0 280.0,252.5 280.1,255.3 280.2,255.3 280.4,253.4 280.5,251.2 280.6,250.4 280.7,253.4 280.8,248.6 281.0,250.3 281.1,248.7 281.2,246.5 281.3,251.4 281.4,250.2 281.6,249.9 281.7,252.0 281.8,245.4 281.9,248.2 282.0,249.3 282.2,250.8 282.3,245.4 282.4,249.4 282.5,248.4 282.6,251.2 282.8,250.7 282.9,248.8 283.0,250.9 283.1,247.0 283.2,244.7 283.4,244.4 283.5,242.2 283.6,243.9 283.7,238.4 283.8,242.2 284.0,243.8 284.1,245.1 284.2,241.0 284.3,244.9 284.4,239.1 284.6,239.2 284.7,233.7 284.8,235.6 284.9,235.3 285.0,241.4 285.2,239.0 285.3,233.5 285.4,236.9 285.5,236.8 285.6,234.4 285.8,234.4 285.9,233.1 286.0,231.9 286.1,227.7 286.2,231.7 286.4,235.9 286.5,236.7 286.6,231.4 286.7,228.9 286.8,229.7 287.0,232.8 287.1,231.3 287.2,227.9 287.3,230.0 287.4,229.1 287.6,231.5 287.7,229.5 287.8,226.7 287.9,230.9 288.0,234.0 288.2,229.3 288.3,232.0 288.4,235.6 288.5,232.9 288.6,232.0 288.8,238.5 288.9,238.2 289.0,238.5 289.1,233.6 289.2,238.5 289.4,231.8 289.5,233.7 289.6,237.5 289.7,238.5 289.8,233.4 290.0,233.1 290.1,235.4 290.2,232.1 290.3,235.9 290.4,236.5 290.6,233.6 290.7,235.9 290.8,237.4 290.9,236.8 291.0,237.8 291.2,241.3 291.3,236.6 291.4,238.3 291.5,237.1 291.6,241.8 291.8,238.9 291.9,241.5 292.0,241.4 292.1,241.7 292.2,244.6 292.4,242.7 292.5,244.6 292.6,244.6 292.7,244.6 292.8,242.1 293.0,244.5 293.1,244.3 293.2,240.4 293.3,242.2 293.4,241.3 293.6,241.3 293.7,244.4 293.8,239.8 293.9,238.5 294.0,238.5 294.2,239.0 294.3,238.9 294.4,240.7 294.5,242.4 294.6,246.1 294.8,243.2 294.9,243.7 295.0,240.9 295.1,244.6 295.2,247.8 295.4,248.7 295.5,240.3 295.6,247.3 295.7,250.8 295.8,249.7 296.0,243.7 296.1,246.5 296.2,249.9 296.3,250.4 296.4,247.7 296.6,247.5 296.7,253.0 296.8,247.7 296.9,253.6 297.0,251.6 297.2,251.9 297.3,247.7 297.4,249.0 297.5,252.7 297.6,248.6 297.8,253.8 297.9,248.7 298.0,248.8 298.1,251.0 298.2,252.7 298.4,253.6 298.5,250.9 298.6,250.9 298.7,250.9 298.8,250.0 299.0,249.1 299.1,254.7 299.2,256.3 299.3,258.2 299.4,258.4 299.6,262.6 299.7,264.4 299.8,266.5 299.9,271.6 300.0,268.3 300.2,273.4 300.3,273.7 300.4,274.7 300.5,277.1 300.6,272.9 300.8,273.5 300.9,272.2 301.0,274.3 301.1,270.7 301.2,268.4 301.4,271.5 301.5,269.9 301.6,269.3 301.7,271.3 301.8,267.5 302.0,267.4 302.1,267.9 302.2,267.9 302.3,266.1 302.4,270.1 302.6,274.0 302.7,271.0 302.8,275.8 302.9,270.6 303.0,277.3 303.2,276.3 303.3,278.2 303.4,278.9 303.5,279.6 303.6,279.8 303.8,282.6 303.9,287.0 304.0,288.6 304.1,287.5 304.2,288.2 304.4,289.2 304.5,289.8 304.6,294.7 304.7,294.0 304.8,292.2 305.0,290.3 305.1,288.5 305.2,291.5 305.3,290.4 305.4,286.7 305.6,288.8 305.7,284.9 305.8,286.6 305.9,283.6 306.0,283.4 306.2,284.3 306.3,283.7 306.4,284.1 306.5,280.4 306.6,283.5 306.8,283.1 306.9,280.2 307.0,280.1 307.1,277.4 307.2,277.6 307.4,275.0 307.5,276.6 307.6,276.5 307.7,278.0 307.8,277.0 308.0,276.2 308.1,273.4 308.2,272.7 308.3,272.1 308.4,273.5 308.6,271.3 308.7,274.9 308.8,271.9 308.9,273.7 309.0,275.2 309.2,274.9 309.3,279.1 309.4,277.0 309.5,279.9 309.6,280.1 309.8,277.5 309.9,279.1 310.0,281.3 310.1,279.1 310.2,279.9 310.4,279.3 310.5,280.8 310.6,280.8 310.7,282.1 310.8,284.3 311.0,285.8 311.1,284.4 311.2,284.7 311.3,286.4 311.4,285.2 311.6,284.2 311.7,288.0 311.8,284.4 311.9,285.9 312.0,281.9 312.2,285.0 312.3,279.5 312.4,282.5 312.5,284.6 312.6,281.2 312.8,285.3 312.9,282.6 313.0,281.1 313.1,285.5 313.2,286.7 313.4,285.9 313.5,282.4 313.6,286.5 313.7,287.2 313.8,287.7 314.0,288.4 314.1,286.6 314.2,288.8 314.3,293.5 314.4,294.0 314.6,291.2 314.7,290.5 314.8,292.5 314.9,294.1 315.0,294.1 315.2,291.3 315.3,293.3 315.4,293.8 315.5,296.3 315.6,296.5 315.8,295.7 315.9,297.0 316.0,294.9 316.1,297.2 316.2,295.5 316.4,296.3 316.5,296.8 316.6,293.6 316.7,293.0 316.8,290.8 317.0,293.2 317.1,292.8 317.2,291.9 317.3,292.6 317.4,288.1 317.6,290.4 317.7,290.5 317.8,289.6 317.9,290.8 318.0,292.1 318.2,288.3 318.3,286.5 318.4,286.4 318.5,287.1 318.6,287.6 318.8,284.9 318.9,287.2 319.0,283.7 319.1,285.9 319.2,285.2 319.4,284.7 319.5,287.1 319.6,283.0 319.7,282.1 319.8,282.7 320.0,283.0 320.1,278.9 320.2,280.6 320.3,278.7 320.4,280.4 320.6,281.6 320.7,279.0 320.8,278.0 320.9,277.9 321.0,276.0 321.2,278.5 321.3,279.4 321.4,279.2 321.5,278.6 321.6,278.3 321.8,279.6 321.9,282.6 322.0,281.1 322.1,283.8 322.2,277.8 322.4,280.9 322.5,283.0 322.6,283.2 322.7,280.9 322.8,282.6 323.0,286.4 323.1,282.8 323.2,282.8 323.3,282.7 323.4,283.6 323.6,285.8 323.7,286.0 323.8,282.7 323.9,286.7 324.0,284.3 324.2,284.0 324.3,287.6 324.4,285.4 324.5,283.4 324.6,283.8 324.8,283.8 324.9,283.6 325.0,284.5 325.1,287.1 325.2,286.9 325.4,284.4 325.5,291.3 325.6,286.4 325.7,287.9 325.8,288.3 326.0,290.0 326.1,288.8 326.2,290.2 326.3,292.6 326.4,291.1 326.6,289.1 326.7,291.5 326.8,289.6 326.9,289.6 327.0,290.1 327.2,290.0 327.3,288.6 327.4,289.8 327.5,287.9 327.6,285.3 327.8,288.1 327.9,286.1 328.0,288.0 328.1,284.8 328.2,285.9 328.4,285.2 328.5,280.7 328.6,280.7 328.7,280.7 328.8,284.7 329.0,280.7 329.1,283.2 329.2,284.3 329.3,283.6 329.4,283.9 329.6,282.1 329.7,282.8 329.8,283.4 329.9,284.0 330.0,284.7 330.2,283.4 330.3,282.5 330.4,282.8 330.5,284.6 330.6,281.5 330.8,281.8 330.9,283.5 331.0,283.6 331.1,284.4 331.2,282.3 331.4,284.5 331.5,285.5 331.6,287.7 331.7,283.7 331.8,286.2 332.0,288.2 332.1,288.8 332.2,290.4 332.3,290.7 332.4,287.6 332.6,290.2 332.7,289.3 332.8,288.7 332.9,292.8 333.0,290.1 333.2,289.5 333.3,290.3 333.4,289.8 333.5,293.0 333.6,292.6 333.8,294.4 333.9,293.2 334.0,291.5 334.1,294.1 334.2,291.9 334.4,292.1 334.5,292.7 334.6,293.3 334.7,295.5 334.8,293.0 335.0,294.4 335.1,294.3 335.2,292.7 335.3,293.1 335.4,294.9 335.6,296.6 335.7,297.1 335.8,297.8 335.9,297.6 336.0,297.1 336.2,298.8 336.3,297.2 336.4,296.8 336.5,298.7 336.6,297.6 336.8,299.3 336.9,299.5 337.0,300.2 337.1,300.7 337.2,299.2 337.4,299.3 337.5,296.9 337.6,299.1 337.7,297.5 337.8,299.0 338.0,293.7 338.1,295.8 338.2,297.4 338.3,293.4 338.4,295.4 338.6,296.1 338.7,295.9 338.8,293.4 338.9,295.0 339.0,295.0 339.2,293.5 339.3,296.2 339.4,295.6 339.5,295.8 339.6,295.3 339.8,297.0 339.9,296.7 340.0,298.5 340.1,297.9 340.2,296.3 340.4,296.3 340.5,297.2 340.6,294.5 340.7,294.5 340.8,293.9 341.0,291.8 341.1,287.2 341.2,289.7 341.3,289.4 341.4,288.4 341.6,285.9 341.7,288.0 341.8,286.6 341.9,286.2 342.0,286.6 342.2,289.1 342.3,287.6 342.4,288.2 342.5,293.8 342.6,294.1 342.8,294.3 342.9,295.4 343.0,294.9 343.1,291.7 343.2,296.5 343.4,297.7 343.5,297.1 343.6,293.4 343.7,298.3 343.8,299.6 344.0,297.2 344.1,298.2 344.2,299.7 344.3,299.0 344.4,301.1 344.6,300.1 344.7,301.3 344.8,300.9 344.9,298.8 345.0,299.3 345.2,302.5 345.3,301.8 345.4,302.5 345.5,302.2 345.6,302.5 345.8,300.9 345.9,298.5 346.0,298.9 346.1,295.7 346.2,297.7 346.4,299.5 346.5,294.9 346.6,297.4 346.7,298.6 346.8,299.4 347.0,295.7 347.1,295.4 347.2,294.2 347.3,294.3 347.4,296.8 347.6,299.0 347.7,294.7 347.8,297.9 347.9,296.8 348.0,295.0 348.2,297.8 348.3,293.4 348.4,294.7 348.5,295.4 348.6,297.4 348.8,297.2 348.9,297.4 349.0,295.5 349.1,296.6 349.2,297.6 349.4,296.5 349.5,296.3 349.6,295.5 349.7,295.2 349.8,294.0 350.0,299.1 350.1,296.2 350.2,293.8 350.3,296.8 350.4,297.0 350.6,297.5 350.7,300.4 350.8,297.9 350.9,297.5 351.0,296.9 351.2,298.3 351.3,298.2 351.4,299.6 351.5,304.4 351.6,301.6 351.8,299.5 351.9,303.9 352.0,303.2 352.1,303.4 352.2,303.6 352.4,304.2 352.5,304.4 352.6,305.9 352.7,305.8 352.8,306.7 353.0,304.3 353.1,305.1 353.2,304.5 353.3,307.3 353.4,307.9 353.6,306.3 353.7,308.0 353.8,308.5 353.9,308.5 354.0,305.5 354.2,306.4 354.3,307.5 354.4,306.5 354.5,306.8 354.6,308.0 354.8,306.7 354.9,304.2 355.0,306.5 355.1,305.4 355.2,305.5 355.4,304.3 355.5,303.4 355.6,303.4 355.7,303.8 355.8,303.4 356.0,303.4 356.1,305.9 356.2,303.4 356.3,303.5 356.4,305.5 356.6,303.4 356.7,306.5 356.8,304.1 356.9,305.9 357.0,304.5 357.2,305.5 357.3,305.4 357.4,305.2 357.5,302.4 357.6,302.6 357.8,304.7 357.9,306.6 358.0,304.0 358.1,304.9 358.2,304.2 358.4,304.4 358.5,304.9 358.6,300.8 358.7,302.7 358.8,302.0 359.0,301.4 359.1,300.2 359.2,299.9 359.3,299.2 359.4,298.7 359.6,304.0 359.7,303.3 359.8,301.2 359.9,302.7 360.0,300.9 360.2,298.8 360.3,300.4 360.4,304.4 360.5,307.6 360.6,306.5 360.8,305.6 360.9,307.3 361.0,307.1 361.1,307.2 361.2,309.6 361.4,310.1 361.5,309.6 361.6,309.5 361.7,309.6 361.8,311.4 362.0,313.6 362.1,311.6 362.2,313.8 362.3,310.0 362.4,312.2 362.6,310.5 362.7,311.8 362.8,312.5 362.9,313.4 363.0,313.8 363.2,311.8 363.3,310.2 363.4,311.3 363.5,311.9 363.6,310.4 363.8,312.3 363.9,313.5 364.0,308.9 364.1,310.6 364.2,311.6 364.4,307.2 364.5,309.5 364.6,308.9 364.7,306.2 364.8,309.2 365.0,307.3 365.1,305.2 365.2,305.6 365.3,305.2 365.4,304.7 365.6,303.5 365.7,302.4 365.8,299.0 365.9,298.9 366.0,299.1 366.2,293.7 366.3,300.0 366.4,296.2 366.5,293.8 366.6,291.7 366.8,294.5 366.9,294.3 367.0,292.9 367.1,292.7 367.2,291.7 367.4,291.4 367.5,292.2 367.6,291.1 367.7,292.9 367.8,291.5 368.0,291.4 368.1,291.6 368.2,292.8 368.3,291.6 368.4,291.0 368.6,290.3 368.7,289.2 368.8,289.9 368.9,291.8 369.0,291.3 369.2,290.3 369.3,288.9 369.4,289.0 369.5,291.3 369.6,293.0 369.8,292.2 369.9,289.4 370.0,290.8 370.1,291.8 370.2,290.2 370.4,291.9 370.5,291.1 370.6,289.8 370.7,288.7 370.8,291.8 371.0,291.3 371.1,289.0 371.2,288.3 371.3,291.2 371.4,290.9 371.6,289.2 371.7,292.0 371.8,289.1 371.9,287.2 372.0,290.3 372.2,288.5 372.3,288.9 372.4,288.6 372.5,287.0 372.6,286.9 372.8,288.3 372.9,291.4 373.0,288.0 373.1,291.6 373.2,290.4 373.4,288.1 373.5,290.3 373.6,291.2 373.7,289.1 373.8,286.9 374.0,290.8 374.1,289.1 374.2,290.8 374.3,286.4 374.4,288.0 374.6,286.5 374.7,284.4 374.8,285.5 374.9,285.7 375.0,283.8 375.2,281.7 375.3,283.1 375.4,279.3 375.5,282.0 375.6,281.6 375.8,283.3 375.9,282.2 376.0,281.0 376.1,280.6 376.2,280.1 376.4,277.8 376.5,282.0 376.6,281.0 376.7,279.3 376.8,277.6 377.0,281.6 377.1,280.7 377.2,277.6 377.3,280.1 377.4,281.3 377.6,279.6 377.7,279.8 377.8,278.5 377.9,278.0 378.0,281.0 378.2,281.6 378.3,280.5 378.4,279.5 378.5,281.0 378.6,279.4 378.8,281.0 378.9,281.5 379.0,278.5 379.1,278.0 379.2,279.7 379.4,281.7 379.5,281.1 379.6,282.7 379.7,278.5 379.8,281.2 380.0,279.7 380.1,280.9 380.2,281.5 380.3,279.5 380.4,280.8 380.6,279.7 380.7,282.3 380.8,281.1 380.9,281.8 381.0,283.4 381.2,282.5 381.3,285.7 381.4,283.5 381.5,286.0 381.6,285.7 381.8,283.7 381.9,285.1 382.0,284.6 382.1,285.6 382.2,286.2 382.4,289.1 382.5,286.9 382.6,289.2 382.7,288.4 382.8,285.3 383.0,284.7 383.1,288.0 383.2,285.4 383.3,288.4 383.4,289.6 383.6,288.7 383.7,287.7 383.8,287.5 383.9,288.4 384.0,287.7 384.2,287.2 384.3,287.5 384.4,290.7 384.5,288.7 384.6,290.6 384.8,288.9 384.9,289.9 385.0,289.5 385.1,291.9 385.2,294.2 385.4,294.5 385.5,293.8 385.6,296.0 385.7,295.3 385.8,296.9 386.0,297.5 386.1,298.5 386.2,294.4 386.3,296.1 386.4,300.1 386.6,299.8 386.7,303.9 386.8,301.1 386.9,300.6 387.0,304.2 387.2,303.8 387.3,305.0 387.4,304.9 387.5,303.0 387.6,303.7 387.8,301.0 387.9,300.6 388.0,299.9 388.1,299.9 388.2,301.0 388.4,298.7 388.5,299.1 388.6,297.4 388.7,298.9 388.8,293.4 389.0,295.5 389.1,296.3 389.2,294.2 389.3,297.0 389.4,296.0 389.6,297.3 389.7,296.8 389.8,296.0 389.9,294.4 390.0,292.5 390.2,293.4 390.3,292.9 390.4,293.8 390.5,292.5 390.6,296.3 390.8,290.9 390.9,294.2 391.0,291.8 391.1,291.9 391.2,293.8 391.4,292.6 391.5,290.9 391.6,292.9 391.7,292.3 391.8,290.9 392.0,292.4 392.1,291.0 392.2,291.2 392.3,293.3 392.4,293.4 392.6,292.5 392.7,294.3 392.8,294.1 392.9,292.2 393.0,293.2 393.2,292.5 393.3,288.7 393.4,288.9 393.5,289.0 393.6,294.3 393.8,291.4 393.9,290.5 394.0,289.7 394.1,291.8 394.2,290.4 394.4,292.7 394.5,291.3 394.6,292.2 394.7,289.2 394.8,289.3 395.0,287.8 395.1,287.9 395.2,286.9 395.3,286.9 395.4,286.9 395.6,286.9 395.7,290.1 395.8,289.0 395.9,289.8 396.0,289.7 396.2,289.7 396.3,289.7 396.4,287.6 396.5,289.5 396.6,287.9 396.8,287.4 396.9,290.0 397.0,290.3 397.1,287.3 397.2,290.8 397.4,290.1 397.5,287.2 397.6,288.6 397.7,289.0 397.8,289.3 398.0,288.4 398.1,286.9 398.2,289.1 398.3,291.0 398.4,291.4 398.6,291.5 398.7,292.4 398.8,289.3 398.9,290.6 399.0,291.7 399.2,293.1 399.3,292.2 399.4,292.9 399.5,292.5 399.6,294.3 399.8,289.7 399.9,292.5 400.0,294.3 400.1,293.2 400.2,289.0 400.4,291.3 400.5,288.7 400.6,289.2 400.7,290.4 400.8,292.7 401.0,290.7 401.1,290.4 401.2,290.5 401.3,288.9 401.4,286.5 401.6,287.1 401.7,287.6 401.8,286.3 401.9,285.2 402.0,285.3 402.2,283.1 402.3,283.3 402.4,284.6 402.5,284.1 402.6,284.4 402.8,286.5 402.9,284.6 403.0,283.5 403.1,281.1 403.2,280.7 403.4,282.8 403.5,280.7 403.6,282.3 403.7,279.7 403.8,281.1 404.0,281.0 404.1,283.2 404.2,281.4 404.3,281.4 404.4,282.7 404.6,282.9 404.7,285.9 404.8,283.3 404.9,282.8 405.0,283.3 405.2,285.0 405.3,285.1 405.4,286.2 405.5,283.1 405.6,288.0 405.8,288.1 405.9,286.4 406.0,284.0 406.1,286.1 406.2,286.9 406.4,283.5 406.5,286.0 406.6,284.1 406.7,287.1 406.8,289.2 407.0,289.0 407.1,284.9 407.2,289.2 407.3,289.1 407.4,287.1 407.6,288.3 407.7,289.8 407.8,287.6 407.9,287.8 408.0,287.0 408.2,289.8 408.3,285.9 408.4,290.1 408.5,287.0 408.6,289.8 408.8,286.4 408.9,286.7 409.0,287.4 409.1,290.0 409.2,286.8 409.4,289.6 409.5,288.1 409.6,291.0 409.7,289.0 409.8,290.1 410.0,289.3 410.1,291.0 410.2,289.5 410.3,289.6 410.4,291.0 410.6,289.3 410.7,289.5 410.8,286.8 410.9,287.6 411.0,283.2 411.2,286.1 411.3,284.9 411.4,282.9 411.5,282.3 411.6,286.2 411.8,285.2 411.9,281.3 412.0,286.2 412.1,282.4 412.2,282.2 412.4,283.0 412.5,280.5 412.6,279.1 412.7,280.1 412.8,283.4 413.0,283.2 413.1,278.6 413.2,282.5 413.3,280.9 413.4,281.2 413.6,280.2 413.7,280.5 413.8,278.3 413.9,278.3 414.0,278.6 414.2,279.3 414.3,281.2 414.4,278.4 414.5,282.9 414.6,279.9 414.8,279.6 414.9,281.9 415.0,281.9 415.1,280.7 415.2,279.3 415.4,279.4 415.5,279.1 415.6,283.1 415.7,283.1 415.8,283.1 416.0,283.0 416.1,282.4 416.2,283.0 416.3,283.1 416.4,281.3 416.6,282.0 416.7,283.1 416.8,279.7 416.9,279.7 417.0,279.6 417.2,282.3 417.3,283.0 417.4,281.0 417.5,282.3 417.6,281.3 417.8,281.7 417.9,280.3 418.0,280.9 418.1,281.0 418.2,283.0 418.4,284.1 418.5,279.6 418.6,282.0 418.7,281.8 418.8,283.6 419.0,284.2 419.1,283.9 419.2,284.1 419.3,281.3 419.4,279.9 419.6,285.5 419.7,285.7 419.8,282.2 419.9,285.7 420.0,285.3 420.2,281.1 420.3,285.2 420.4,282.9 420.5,286.3 420.6,283.9 420.8,283.5 420.9,282.3 421.0,284.5 421.1,287.0 421.2,284.7 421.4,283.0 421.5,288.7 421.6,289.0 421.7,287.9 421.8,285.7 422.0,284.4 422.1,284.0 422.2,287.3 422.3,289.3 422.4,285.9 422.6,287.4 422.7,287.4 422.8,287.7 422.9,289.2 423.0,292.3 423.2,288.5 423.3,290.6 423.4,291.6 423.5,289.7 423.6,289.9 423.8,288.2 423.9,292.1 424.0,290.3 424.1,290.1 424.2,291.5 424.4,290.4 424.5,290.3 424.6,291.7 424.7,295.1 424.8,293.1 425.0,294.3 425.1,291.5 425.2,290.6 425.3,296.8 425.4,294.4 425.6,292.5 425.7,294.8 425.8,296.6 425.9,293.4 426.0,294.5 426.2,296.8 426.3,295.5 426.4,298.0 426.5,298.3 426.6,297.9 426.8,296.3 426.9,296.7 427.0,295.8 427.1,296.4 427.2,297.2 427.4,296.3 427.5,298.2 427.6,298.2 427.7,296.4 427.8,297.1 428.0,298.0 428.1,297.8 428.2,296.3 428.3,295.7 428.4,297.9 428.6,297.6 428.7,297.4 428.8,295.2 428.9,297.2 429.0,297.6 429.2,295.9 429.3,296.8 429.4,297.8 429.5,292.8 429.6,295.6 429.8,293.0 429.9,292.4 430.0,293.5 430.1,294.8 430.2,294.0 430.4,292.4 430.5,292.4 430.6,292.5 430.7,293.7 430.8,292.5 431.0,292.4 431.1,295.6 431.2,293.0 431.3,293.6 431.4,293.1 431.6,293.0 431.7,294.0 431.8,293.7 431.9,295.1 432.0,292.4 432.2,291.6 432.3,295.6 432.4,294.4 432.5,295.1 432.6,295.6 432.8,294.5 432.9,293.2 433.0,290.2 433.1,289.4 433.2,293.3 433.4,293.1 433.5,292.7 433.6,288.8 433.7,287.4 433.8,288.4 434.0,288.2 434.1,290.1 434.2,288.2 434.3,292.0 434.4,288.7 434.6,288.1 434.7,290.1 434.8,289.3 434.9,286.9 435.0,289.1 435.2,291.1 435.3,285.8 435.4,286.5 435.5,284.9 435.6,283.1 435.8,286.8 435.9,287.2 436.0,287.5 436.1,286.4 436.2,282.1 436.4,284.4 436.5,283.5 436.6,282.3 436.7,282.1 436.8,285.1 437.0,283.5 437.1,286.9 437.2,284.8 437.3,280.3 437.4,284.2 437.6,285.2 437.7,283.1 437.8,280.5 437.9,285.1 438.0,280.3 438.2,281.5 438.3,280.3 438.4,280.3 438.5,280.3 438.6,283.5 438.8,284.5 438.9,282.0 439.0,280.3 439.1,282.2 439.2,283.4 439.4,280.4 439.5,280.7 439.6,282.7 439.7,284.5 439.8,283.8 440.0,284.5 440.1,281.8 440.2,281.4 440.3,283.9 440.4,282.6 440.6,283.9 440.7,283.8 440.8,285.4 440.9,283.6 441.0,287.2 441.2,285.5 441.3,286.2 441.4,286.6 441.5,287.5 441.6,286.6 441.8,283.2 441.9,284.5 442.0,288.7 442.1,287.5 442.2,287.5 442.4,287.5 442.5,285.7 442.6,285.5 442.7,285.7 442.8,288.9 443.0,288.1 443.1,289.1 443.2,288.9 443.3,289.1 443.4,288.9 443.6,285.2 443.7,289.1 443.8,286.8 443.9,287.4 444.0,285.3 444.2,283.6 444.3,283.7 444.4,280.9 444.5,279.9 444.6,279.7 444.8,279.8 444.9,277.9 445.0,279.3 445.1,279.7 445.2,282.3 445.4,281.9 445.5,278.0 445.6,278.5 445.7,276.1 445.8,276.4 446.0,275.1 446.1,273.5 446.2,274.2 446.3,271.3 446.4,274.1 446.6,273.0 446.7,271.2 446.8,272.0 446.9,273.6 447.0,271.4 447.2,273.0 447.3,273.2 447.4,274.8 447.5,270.0 447.6,270.9 447.8,272.0 447.9,273.7 448.0,271.5 448.1,271.9 448.2,267.6 448.4,268.2 448.5,272.0 448.6,268.4 448.7,272.0 448.8,266.6 449.0,266.1 449.1,263.0 449.2,266.3 449.3,265.6 449.4,268.3 449.6,264.7 449.7,262.9 449.8,259.8 449.9,261.4 450.0,263.2 450.2,262.5 450.3,262.9 450.4,261.7 450.5,259.3 450.6,259.7 450.8,258.4 450.9,255.1 451.0,259.7 451.1,258.1 451.2,255.3 451.4,257.9 451.5,258.3 451.6,259.9 451.7,261.2 451.8,255.1 452.0,258.8 452.1,261.8 452.2,257.6 452.3,255.8 452.4,259.4 452.6,260.3 452.7,260.7 452.8,258.1 452.9,259.1 453.0,260.8 453.2,262.3 453.3,264.1 453.4,262.5 453.5,260.5 453.6,258.3 453.8,263.3 453.9,262.1 454.0,262.1 454.1,260.5 454.2,263.7 454.4,259.7 454.5,262.5 454.6,263.1 454.7,263.7 454.8,265.7 455.0,263.5 455.1,263.6 455.2,265.2 455.3,261.1 455.4,262.8 455.6,263.9 455.7,265.9 455.8,262.9 455.9,265.6 456.0,265.3 456.2,262.0 456.3,262.1 456.4,262.2 456.5,264.7 456.6,265.4 456.8,266.6 456.9,267.1 457.0,264.6 457.1,267.1 457.2,267.1 457.4,266.1 457.5,265.5 457.6,261.6 457.7,263.8 457.8,261.0 458.0,259.8 458.1,260.9 458.2,261.6 458.3,260.9 458.4,259.8 458.6,257.9 458.7,259.5 458.8,257.5 458.9,255.5 459.0,257.7 459.2,260.3 459.3,256.6 459.4,254.3 459.5,258.4 459.6,259.3 459.8,255.0 459.9,254.1 460.0,254.7 460.1,259.5 460.2,255.5 460.4,256.6 460.5,255.2 460.6,250.3 460.7,250.2 460.8,249.6 461.0,253.7 461.1,253.3 461.2,256.0 461.3,252.7 461.4,253.3 461.6,252.7 461.7,252.6 461.8,255.3 461.9,252.1 462.0,253.5 462.2,252.4 462.3,246.5 462.4,248.2 462.5,244.8 462.6,244.8 462.8,244.1 462.9,244.4 463.0,244.6 463.1,251.2 463.2,248.7 463.4,252.1 463.5,256.4 463.6,255.6 463.7,257.8 463.8,260.3 464.0,261.2 464.1,264.0 464.2,258.1 464.3,263.9 464.4,261.3 464.6,254.9 464.7,255.5 464.8,252.4 464.9,254.2 465.0,249.5 465.2,248.8 465.3,250.9 465.4,249.6 465.5,245.7 465.6,245.4 465.8,244.5 465.9,243.7 466.0,242.2 466.1,240.3 466.2,241.8 466.4,234.2 466.5,234.9 466.6,235.6 466.7,233.1 466.8,231.7 467.0,232.3 467.1,234.4 467.2,237.9 467.3,234.8 467.4,234.4 467.6,236.3 467.7,235.2 467.8,231.2 467.9,236.4 468.0,235.7 468.2,235.4 468.3,238.9 468.4,238.1 468.5,236.6 468.6,232.8 468.8,233.2 468.9,237.7 469.0,237.5 469.1,238.4 469.2,237.5 469.4,234.9 469.5,231.9 469.6,231.4 469.7,233.4 469.8,230.4 470.0,234.8 470.1,229.1 470.2,226.5 470.3,230.0 470.4,225.6 470.6,234.0 470.7,227.0 470.8,227.7 470.9,226.3 471.0,223.5 471.2,219.4 471.3,217.6 471.4,224.2 471.5,224.8 471.6,227.2 471.8,216.1 471.9,219.4 472.0,217.3 472.1,218.6 472.2,213.8 472.4,215.5 472.5,214.9 472.6,212.5 472.7,213.2 472.8,207.0 473.0,209.9 473.1,202.0 473.2,206.7 473.3,196.7 473.4,198.1 473.6,197.4 473.7,200.6 473.8,205.1 473.9,205.6 474.0,204.5 474.2,210.1 474.3,201.9 474.4,203.5 474.5,211.6 474.6,210.0 474.8,203.2 474.9,210.3 475.0,207.5 475.1,215.6 475.2,216.4 475.4,211.9 475.5,217.3 475.6,212.3 475.7,217.3 475.8,217.5 476.0,216.0 476.1,212.5 476.2,215.8 476.3,210.7 476.4,214.0 476.6,210.0 476.7,217.7 476.8,211.6 476.9,209.0 477.0,212.9 477.2,212.6 477.3,210.1 477.4,218.0 477.5,215.5 477.6,213.4 477.8,211.4 477.9,209.0 478.0,214.1 478.1,217.4 478.2,213.6 478.4,211.0 478.5,215.1 478.6,211.2 478.7,216.0 478.8,219.4 479.0,220.0 479.1,218.9 479.2,217.6 479.3,218.5 479.4,220.1 479.6,214.7 479.7,210.6 479.8,210.8 479.9,210.1 480.0,210.1 480.2,212.1 480.3,215.5 480.4,216.8 480.5,218.0 480.6,218.3 480.8,222.0 480.9,225.2 481.0,226.7 481.1,228.6 481.2,226.2 481.4,224.5 481.5,228.7 481.6,224.4 481.7,223.4 481.8,220.1 482.0,222.5 482.1,218.0 482.2,214.6 482.3,215.9 482.4,214.1 482.6,216.6 482.7,212.5 482.8,212.5 482.9,212.3 483.0,214.5 483.2,212.6 483.3,218.1 483.4,212.0 483.5,214.8 483.6,214.8 483.8,219.5 483.9,219.0 484.0,220.8 484.1,219.3 484.2,218.5 484.4,217.7 484.5,220.3 484.6,220.4 484.7,223.2 484.8,224.2 485.0,226.5 485.1,224.1 485.2,222.3 485.3,221.5 485.4,225.0 485.6,226.8 485.7,231.9 485.8,228.1 485.9,232.3 486.0,233.7 486.2,226.2 486.3,232.2 486.4,233.5 486.5,235.0 486.6,232.2 486.8,235.1 486.9,232.3 487.0,233.7 487.1,234.9 487.2,240.6 487.4,236.7 487.5,240.0 487.6,238.8 487.7,237.0 487.8,238.5 488.0,239.4 488.1,235.2 488.2,237.8 488.3,233.9 488.4,232.4 488.6,234.6 488.7,233.1 488.8,230.3 488.9,227.6 489.0,231.2 489.2,231.8 489.3,229.4 489.4,230.3 489.5,225.2 489.6,229.3 489.8,229.5 489.9,228.6 490.0,225.5 490.1,226.5 490.2,226.3 490.4,228.4 490.5,226.0 490.6,225.1 490.7,221.6 490.8,225.2 491.0,226.1 491.1,220.9 491.2,222.9 491.3,221.7 491.4,219.9 491.6,215.5 491.7,223.2 491.8,213.2 491.9,217.5 492.0,215.8 492.2,218.6 492.3,214.8 492.4,216.1 492.5,218.6 492.6,219.4 492.8,218.1 492.9,221.5 493.0,222.2 493.1,224.5 493.2,222.2 493.4,223.8 493.5,224.1 493.6,224.0 493.7,227.3 493.8,229.0 494.0,230.2 494.1,228.0 494.2,228.9 494.3,230.3 494.4,227.9 494.6,227.8 494.7,227.8 494.8,225.8 494.9,224.7 495.0,229.1 495.2,227.5 495.3,226.6 495.4,223.7 495.5,226.2 495.6,228.8 495.8,223.8 495.9,223.7 496.0,227.8 496.1,229.1 496.2,229.7 496.4,225.5 496.5,228.0 496.6,225.8 496.7,228.9 496.8,227.8 497.0,229.4 497.1,232.7 497.2,231.5 497.3,230.5 497.4,231.5 497.6,232.6 497.7,231.6 497.8,233.5 497.9,233.9 498.0,235.0 498.2,227.1 498.3,227.1 498.4,226.4 498.5,230.5 498.6,234.0 498.8,228.9 498.9,227.4 499.0,228.8 499.1,224.4 499.2,226.1 499.4,224.4 499.5,227.6 499.6,227.6 499.7,228.1 499.8,230.4 500.0,229.2 500.1,233.2 500.2,231.8 500.3,232.9 500.4,234.8 500.6,232.9 500.7,234.8 500.8,231.2 500.9,234.8 501.0,234.6 501.2,232.4 501.3,233.7 501.4,234.8 501.5,234.4 501.6,231.0 501.8,230.1 501.9,232.3 502.0,226.6 502.1,227.4 502.2,229.7 502.4,230.0 502.5,232.4 502.6,231.8 502.7,227.8 502.8,226.8 503.0,222.0 503.1,223.2 503.2,223.7 503.3,222.0 503.4,221.8 503.6,222.3 503.7,218.2 503.8,219.0 503.9,218.3 504.0,224.1 504.2,220.7 504.3,219.4 504.4,225.5 504.5,224.8 504.6,228.0 504.8,226.1 504.9,231.1 505.0,230.4 505.1,229.5 505.2,229.6 505.4,228.7 505.5,230.7 505.6,231.1 505.7,228.4 505.8,226.1 506.0,229.3 506.1,230.8 506.2,225.1 506.3,226.0 506.4,225.3 506.6,228.5 506.7,228.8 506.8,225.9 506.9,224.5 507.0,228.2 507.2,223.2 507.3,227.4 507.4,226.2 507.5,229.5 507.6,228.8 507.8,224.8 507.9,224.7 508.0,224.5 508.1,223.3 508.2,224.7 508.4,226.7 508.5,221.2 508.6,223.1 508.7,227.0 508.8,224.8 509.0,220.0 509.1,218.4 509.2,217.1 509.3,214.2 509.4,219.2 509.6,216.6 509.7,213.4 509.8,210.3 509.9,211.3 510.0,210.0 510.2,214.0 510.3,208.2 510.4,207.6 510.5,208.6 510.6,206.7 510.8,203.2 510.9,198.6 511.0,203.2 511.1,203.6 511.2,202.0 511.4,203.6 511.5,202.6 511.6,203.6 511.7,203.3 511.8,208.9 512.0,210.7 512.1,211.1 512.2,212.2 512.3,211.3 512.4,209.8 512.6,206.7 512.7,209.3 512.8,210.7 512.9,209.1 513.0,210.4 513.2,207.5 513.3,206.7 513.4,212.8 513.5,210.2 513.6,212.6 513.8,212.8 513.9,214.2 514.0,214.6 514.1,214.8 514.2,212.4 514.4,221.1 514.5,219.0 514.6,214.3 514.7,216.4 514.8,216.7 515.0,218.1 515.1,214.7 515.2,221.9 515.3,225.7 515.4,222.6 515.6,224.9 515.7,225.4 515.8,221.1 515.9,225.7 516.0,219.6 516.2,220.9 516.3,221.3 516.4,224.8 516.5,222.4 516.6,221.3 516.8,219.3 516.9,220.8 517.0,220.6 517.1,221.9 517.2,223.7 517.4,223.2 517.5,222.1 517.6,222.2 517.7,226.9 517.8,225.0 518.0,224.9 518.1,229.6 518.2,230.4 518.3,228.9 518.4,227.9 518.6,227.2 518.7,231.5 518.8,229.4 518.9,231.9 519.0,228.3 519.2,229.6 519.3,230.3 519.4,229.6 519.5,229.6 519.6,229.7 519.8,226.3 519.9,226.1 520.0,227.5 520.1,232.0 520.2,228.2 520.4,226.1 520.5,227.0 520.6,229.2 520.7,232.6 520.8,229.8 521.0,232.4 521.1,232.5 521.2,231.9 521.3,231.1 521.4,233.2 521.6,232.8 521.7,236.0 521.8,232.1 521.9,238.2 522.0,238.5 522.2,238.4 522.3,240.5 522.4,239.1 522.5,234.2 522.6,237.4 522.8,239.0 522.9,237.0 523.0,236.0 523.1,239.3 523.2,240.2 523.4,238.6 523.5,239.2 523.6,239.4 523.7,239.9 523.8,241.6 524.0,244.8 524.1,240.3 524.2,242.8 524.3,247.1 524.4,246.5 524.6,245.9 524.7,246.6 524.8,242.4 524.9,240.9 525.0,239.2 525.2,238.9 525.3,241.9 525.4,243.1 525.5,240.1 525.6,238.6 525.8,240.2 525.9,240.4 526.0,239.1 526.1,236.3 526.2,237.3 526.4,236.3 526.5,240.5 526.6,240.0 526.7,241.1 526.8,246.3 527.0,246.3 527.1,245.3 527.2,243.0 527.3,241.1 527.4,237.8 527.6,237.1 527.7,239.8 527.8,232.9 527.9,230.9 528.0,231.0 528.2,231.8 528.3,231.5 528.4,227.1 528.5,227.9 528.6,227.3 528.8,224.7 528.9,226.8 529.0,225.5 529.1,228.0 529.2,226.9 529.4,223.7 529.5,224.7 529.6,223.5 529.7,222.2 529.8,221.8 530.0,224.6 530.1,221.1 530.2,217.1 530.3,218.0 530.4,221.1 530.6,224.1 530.7,216.6 530.8,216.5 530.9,216.0 531.0,212.8 531.2,215.9 531.3,214.7 531.4,214.7 531.5,218.6 531.6,212.7 531.8,213.6 531.9,213.2 532.0,209.1 532.1,207.9 532.2,212.1 532.4,210.6 532.5,209.3 532.6,206.4 532.7,210.8 532.8,210.8 533.0,214.9 533.1,214.0 533.2,212.5 533.3,211.2 533.4,210.7 533.6,209.4 533.7,212.1 533.8,213.6 533.9,215.9 534.0,218.4 534.2,218.1 534.3,217.3 534.4,221.4 534.5,224.3 534.6,221.1 534.8,223.0 534.9,221.8 535.0,220.1 535.1,218.2 535.2,215.0 535.4,213.0 535.5,215.4 535.6,214.4 535.7,205.3 535.8,199.6 536.0,205.0 536.1,202.7 536.2,202.2 536.3,198.9 536.4,202.6 536.6,201.7 536.7,199.8 536.8,202.5 536.9,206.1 537.0,203.8 537.2,202.2 537.3,197.5 537.4,199.0 537.5,197.9 537.6,201.0 537.8,200.3 537.9,199.0 538.0,200.5 538.1,198.0 538.2,201.6 538.4,204.1 538.5,200.3 538.6,202.2 538.7,197.4 538.8,203.3 539.0,204.4 539.1,200.4 539.2,207.1 539.3,204.7 539.4,200.4 539.6,201.2 539.7,207.3 539.8,206.0 539.9,209.6 540.0,204.4 540.2,207.6 540.3,211.2 540.4,208.4 540.5,211.7 540.6,210.1 540.8,211.7 540.9,212.0 541.0,214.7 541.1,209.4 541.2,213.2 541.4,214.9 541.5,209.9 541.6,212.1 541.7,214.9 541.8,214.9 542.0,208.3 542.1,211.5 542.2,208.5 542.3,212.3 542.4,210.2 542.6,209.9 542.7,208.8 542.8,211.0 542.9,209.2 543.0,207.5 543.2,208.5 543.3,209.8 543.4,206.7 543.5,210.6 543.6,205.8 543.8,208.3 543.9,207.7 544.0,212.7 544.1,208.8 544.2,208.7 544.4,207.6 544.5,215.7 544.6,214.3 544.7,210.6 544.8,212.3 545.0,211.7 545.1,217.2 545.2,216.7 545.3,210.4 545.4,214.3 545.6,216.2 545.7,214.0 545.8,214.4 545.9,212.8 546.0,212.9 546.2,212.6 546.3,210.1 546.4,211.8 546.5,211.3 546.6,210.4 546.8,208.4 546.9,208.1 547.0,211.8 547.1,214.7 547.2,208.5 547.4,212.8 547.5,218.7 547.6,219.5 547.7,216.7 547.8,221.9 548.0,218.3 548.1,219.1 548.2,224.8 548.3,222.5 548.4,221.3 548.6,216.9 548.7,216.7 548.8,215.4 548.9,216.6 549.0,211.9 549.2,216.9 549.3,213.5 549.4,211.4 549.5,210.1 549.6,212.2 549.8,213.4 549.9,208.1 550.0,211.6 550.1,211.6 550.2,210.4 550.4,207.2 550.5,201.9 550.6,205.8 550.7,203.3 550.8,203.8 551.0,198.4 551.1,200.9 551.2,202.0 551.3,198.8 551.4,200.7 551.6,203.5 551.7,199.6 551.8,196.0 551.9,202.2 552.0,191.1 552.2,191.7 552.3,194.3 552.4,191.4 552.5,190.0 552.6,192.4 552.8,195.2 552.9,192.0 553.0,197.6 553.1,196.5 553.2,198.5 553.4,192.5 553.5,195.8 553.6,200.7 553.7,201.0 553.8,201.0 554.0,199.0 554.1,199.5 554.2,197.3 554.3,200.9 554.4,196.8 554.6,197.9 554.7,193.9 554.8,193.9 554.9,200.6 555.0,197.3 555.2,196.9 555.3,193.9 555.4,195.3 555.5,200.9 555.6,193.9 555.8,193.9 555.9,196.0 556.0,196.1 556.1,197.2 556.2,195.0 556.4,194.7 556.5,195.2 556.6,200.1 556.7,199.5 556.8,201.7 557.0,197.7 557.1,201.4 557.2,199.7 557.3,199.3 557.4,200.1 557.6,196.8 557.7,194.1 557.8,189.2 557.9,191.6 558.0,192.6 558.2,187.9 558.3,187.4 558.4,181.8 558.5,180.8 558.6,184.0 558.8,185.6 558.9,180.5 559.0,175.0 559.1,176.4 559.2,172.3 559.4,173.9 559.5,178.9 559.6,174.1 559.7,171.0 559.8,172.6 560.0,167.8 560.1,168.0 560.2,166.7 560.3,166.1 560.4,159.7 560.6,163.8 560.7,163.9 560.8,156.0 560.9,156.0 561.0,156.0 561.2,162.9 561.3,160.8 561.4,163.1 561.5,163.9 561.6,165.8 561.8,162.6 561.9,163.1 562.0,166.6 562.1,168.6 562.2,169.6 562.4,169.9 562.5,166.9 562.6,169.4 562.7,166.7 562.8,166.7 563.0,155.4 563.1,162.3 563.2,152.4 563.3,157.1 563.4,154.0 563.6,154.6 563.7,153.4 563.8,154.9 563.9,157.6 564.0,159.4 564.2,157.5 564.3,153.4 564.4,158.7 564.5,164.2 564.6,162.2 564.8,166.5 564.9,165.9 565.0,165.3 565.1,169.5 565.2,170.3 565.4,164.6 565.5,162.8 565.6,164.3 565.7,157.0 565.8,156.1 566.0,160.6 566.1,159.5 566.2,154.3 566.3,151.6 566.4,153.4 566.6,149.0 566.7,149.4 566.8,151.0 566.9,149.0 567.0,153.8 567.2,156.1 567.3,157.8 567.4,151.4 567.5,151.4 567.6,153.2 567.8,152.6 567.9,160.3 568.0,156.0 568.1,155.8 568.2,156.4 568.4,156.4 568.5,158.5 568.6,150.6 568.7,154.3 568.8,151.9 569.0,146.8 569.1,149.1 569.2,144.0 569.3,151.3 569.4,144.4 569.6,147.0 569.7,146.8 569.8,139.6 569.9,136.2 570.0,137.4 570.2,132.5 570.3,136.3 570.4,133.2 570.5,128.3 570.6,126.4 570.8,129.5 570.9,122.6 571.0,130.8 571.1,123.6 571.2,123.8 571.4,120.9 571.5,127.9 571.6,125.8 571.7,126.4 571.8,123.8 572.0,121.0 572.1,125.8 572.2,122.1 572.3,120.0 572.4,119.5 572.6,119.4 572.7,117.0 572.8,114.3 572.9,109.2 573.0,119.9 573.2,109.2 573.3,109.2 573.4,114.3 573.5,128.5 573.6,131.1 573.8,128.1 573.9,134.0 574.0,137.0 574.1,128.0 574.2,130.9 574.4,131.9 574.5,133.6 574.6,123.6 574.7,116.6 574.8,116.3 575.0,121.6 575.1,119.9 575.2,118.2 575.3,116.9 575.4,116.3 575.6,113.6 575.7,121.1 575.8,123.1 575.9,125.2 576.0,129.1 576.2,121.8 576.3,117.4 576.4,119.3 576.5,134.3 576.6,126.1 576.8,130.1 576.9,129.8 577.0,133.0 577.1,134.6 577.2,131.6 577.4,130.7 577.5,127.8 577.6,129.3 577.7,129.5 577.8,123.0 578.0,129.3 578.1,128.5 578.2,124.7 578.3,121.0 578.4,118.9 578.6,112.3 578.7,118.7 578.8,112.4 578.9,111.9 579.0,116.2 579.2,108.4 579.3,107.5 579.4,111.4 579.5,114.5 579.6,104.0 579.8,108.1 579.9,100.8 580.0,102.5 580.1,101.9 580.2,94.3 580.4,100.4 580.5,103.2 580.6,95.5 580.7,94.4 580.8,89.9 581.0,101.2 581.1,96.8 581.2,91.6 581.3,99.6 581.4,92.7 581.6,95.5 581.7,90.9 581.8,104.7 581.9,104.7 582.0,100.4 582.2,97.4 582.3,96.0 582.4,94.6 582.5,97.6 582.6,100.4 582.8,89.8 582.9,92.7 583.0,83.0 583.1,92.7 583.2,85.7 583.4,80.2 583.5,86.5 583.6,78.7 583.7,86.0 583.8,87.6 584.0,91.9 584.1,84.6 584.2,88.4 584.3,84.7 584.4,80.0 584.6,77.5 584.7,71.2 584.8,68.5 584.9,64.9 585.0,56.5 585.2,52.3 585.3,47.7 585.4,43.3 585.5,41.2 585.6,44.4 585.8,48.4 585.9,51.5 586.0,55.6 586.1,60.0 586.2,61.8 586.4,56.8 586.5,53.9 586.6,49.8 586.7,47.0 586.8,42.3 587.0,41.5 587.1,42.9 587.2,45.6 587.3,48.5 587.4,52.3 587.6,55.8 587.7,58.5 587.8,64.9 587.9,63.7 588.0,54.7 588.2,49.8 588.3,47.5 588.4,43.6 588.5,38.6 588.6,38.6 588.8,42.7 588.9,41.6 589.0,46.6 589.1,46.4 589.2,48.2 589.4,49.6 589.5,50.4 589.6,52.2 589.7,49.7 589.8,49.0 590.0,45.3 590.1,42.7 590.2,39.7 590.3,37.8 590.4,40.0 590.6,43.3 590.7,47.9 590.8,49.7 590.9,50.9 591.0,51.4 591.2,45.6 591.3,38.7"/>
</svg>
<svg class="lbl" width="600" height="450" viewBox="0 0 600 450" style="position:absolute;left:0;top:0;will-change:transform"><text x="80.3" y="446.6" textLength="44.9" lengthAdjust="spacingAndGlyphs">2005</text><text x="199.05" y="446.6" textLength="44.9" lengthAdjust="spacingAndGlyphs">2010</text><text x="317.8" y="446.6" textLength="44.9" lengthAdjust="spacingAndGlyphs">2015</text><text x="436.55" y="446.6" textLength="44.9" lengthAdjust="spacingAndGlyphs">2020</text></svg>
</body></html>
